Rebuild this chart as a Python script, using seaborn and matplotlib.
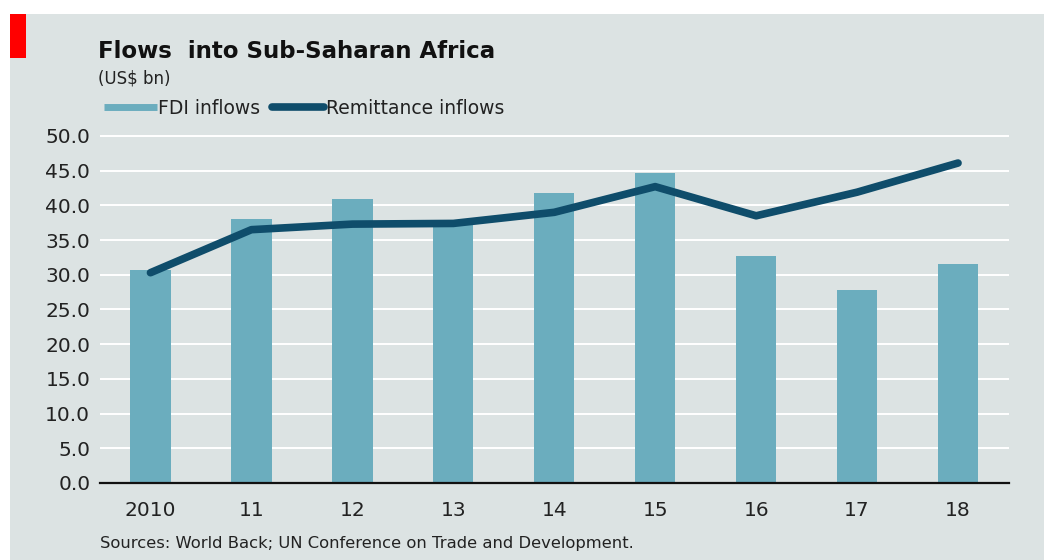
import matplotlib
matplotlib.use("Agg")
import matplotlib.pyplot as plt
from matplotlib.patches import Rectangle
from matplotlib.lines import Line2D
import seaborn as sns
import pandas as pd

years = ["2010", "11", "12", "13", "14", "15", "16", "17", "18"]
fdi_inflows = [30.7, 38.1, 40.9, 37.9, 41.8, 44.7, 32.7, 27.8, 31.6]
remittance_inflows = [30.3, 36.5, 37.3, 37.4, 39.0, 42.7, 38.5, 41.9, 46.1]
y_ticks = [0, 5, 10, 15, 20, 25, 30, 35, 40, 45, 50]

BG = "#dce3e3"
BAR = "#6badbe"
LINE = "#0f4d6b"

df = pd.DataFrame({"year": years, "fdi": fdi_inflows, "remit": remittance_inflows})

sns.set_theme(style="white")
plt.rcParams["font.family"] = ["DejaVu Sans"]

W, H = 1044, 560
fig = plt.figure(figsize=(W / 100, H / 100), dpi=100, facecolor="white")

# panel background and red tag
fig.patches.append(Rectangle((10 / W, 0), 1 - 10 / W, 1 - 14 / H,
                             transform=fig.transFigure, facecolor=BG,
                             edgecolor="none", zorder=-10))
fig.patches.append(Rectangle((10 / W, 1 - 58 / H), 16 / W, 44 / H,
                             transform=fig.transFigure, facecolor="#ff0000",
                             edgecolor="none", zorder=-5))

ax = fig.add_axes([100 / W, 1 - 483 / H, 908.5 / W, 350.5 / H])
ax.set_zorder(1)
ax.set_facecolor(BG)

sns.barplot(data=df, x="year", y="fdi", color=BAR, width=0.4,
            saturation=1, edgecolor="none", linewidth=0, ax=ax, zorder=2)
sns.lineplot(data=df, x="year", y="remit", color=LINE, linewidth=5.5,
             sort=False, ax=ax, zorder=3, solid_capstyle="round")

ax.set_xlim(-0.5, len(years) - 0.5)
ax.set_ylim(0, 50.5)
ax.set_yticks(y_ticks)
ax.set_yticklabels([f"{v:.1f}" for v in y_ticks])
ax.yaxis.grid(True, color="white", linewidth=1.4, zorder=1)
ax.set_axisbelow(True)
ax.set_xlabel("")
ax.set_ylabel("")
for s in ["top", "right", "left"]:
    ax.spines[s].set_visible(False)
ax.spines["bottom"].set_color("#111111")
ax.spines["bottom"].set_linewidth(1.6)
ax.tick_params(axis="y", length=0, pad=7, labelsize=14.5, labelcolor="#222222")
ax.tick_params(axis="x", length=0, pad=13, labelsize=14.5, labelcolor="#222222")

fig.text(98 / W, 1 - 58 / H, "Flows  into Sub-Saharan Africa", fontsize=16.5,
         fontweight="bold", color="#111111", ha="left", va="baseline")
fig.text(98 / W, 1 - 84 / H, "(US$ bn)", fontsize=12, color="#222222",
         ha="left", va="baseline")

handles = [Line2D([], [], color=BAR, linewidth=5, solid_capstyle="butt"),
           Line2D([], [], color=LINE, linewidth=5.5, solid_capstyle="round")]
fig.legend(handles, ["FDI inflows", "Remittance inflows"], loc="center left",
           bbox_to_anchor=(104 / W, 1 - 108 / H), ncol=2, frameon=False,
           fontsize=13.5, handlelength=2.8, handletextpad=0.1,
           columnspacing=0.6, borderaxespad=0, borderpad=0,
           labelcolor="#222222")

fig.text(100 / W, 1 - 548 / H,
         "Sources: World Back; UN Conference on Trade and Development.",
         fontsize=11.8, color="#222222", ha="left", va="baseline")

fig.savefig("out.png", dpi=100, facecolor="white")
